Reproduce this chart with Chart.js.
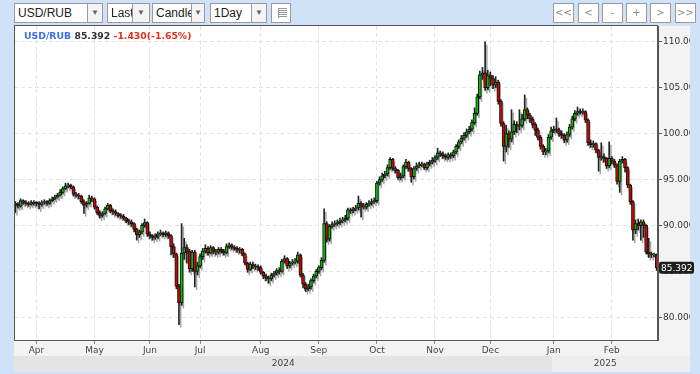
<!DOCTYPE html>
<html><head><meta charset="utf-8">
<script src="https://cdn.jsdelivr.net/npm/chart.js@4.4.1/dist/chart.umd.min.js"></script>
<style>
html,body{margin:0;padding:0;background:#cfe2f7;width:700px;height:374px;overflow:hidden;}
#wrap{position:relative;width:700px;height:374px;}
canvas{position:absolute;left:0;top:0;}
.sel{position:absolute;top:3px;height:20px;background:#fff;border:1px solid #9a9a9a;box-sizing:border-box;font:12px "Liberation Sans",Arial,sans-serif;color:#222;}
.sel .t{position:absolute;left:3px;top:2px;white-space:nowrap;overflow:hidden;}
.sel .a{position:absolute;right:0;top:0;bottom:0;border-left:1px solid #9a9a9a;background:#f4f4f4;color:#666;font-size:8px;text-align:center;line-height:18px;}
.btn{position:absolute;top:3px;width:21px;height:20px;background:#fff;border:1px solid #9a9a9a;box-sizing:border-box;font:10px "DejaVu Sans",sans-serif;color:#888;text-align:center;line-height:18px;}
#hdr{position:absolute;left:24px;top:30px;font:bold 9.3px "DejaVu Sans",sans-serif;white-space:nowrap;line-height:12px;}
</style></head>
<body><div id="wrap">
<canvas id="c" width="700" height="374"></canvas>
<div class="sel" style="left:14px;width:89px"><span class="t" style="width:70px">USD/RUB</span><span class="a" style="width:14px">&#9660;</span></div>
<div class="sel" style="left:107px;width:43px"><span class="t" style="width:23px">Last</span><span class="a" style="width:16px">&#9660;</span></div>
<div class="sel" style="left:152px;width:53px"><span class="t" style="width:38px">Candle</span><span class="a" style="width:12px">&#9660;</span></div>
<div class="sel" style="left:210px;width:57px"><span class="t" style="width:38px">1Day</span><span class="a" style="width:14px">&#9660;</span></div>
<div class="btn" style="left:271px;width:20px;"><div style="position:absolute;left:6px;top:4px;width:8px;height:10px;background:repeating-linear-gradient(#999 0 1px,transparent 1px 2px);border-left:1px solid #999"></div></div>
<div class="btn" style="left:553px">&lt;&lt;</div>
<div class="btn" style="left:578px">&lt;</div>
<div class="btn" style="left:602px">-</div>
<div class="btn" style="left:626px">+</div>
<div class="btn" style="left:650px">&gt;</div>
<div class="btn" style="left:675px">&gt;&gt;</div>
<div id="hdr"></div>
</div>
<script>
const symbol = 'USD/RUB';
const monthNames = ['Mar','Apr','May','Jun','Jul','Aug','Sep','Oct','Nov','Dec','Jan','Feb'];
const monthYears = ['2024','2024','2024','2024','2024','2024','2024','2024','2024','2024','2025','2025'];
const monthDays  = [8,22,21,19,23,22,22,22,21,24,22,18];
const yTicks = [80,85,90,95,100,105,110];

const opens = [
 92.4,92.3,92.1,92.7,92.5,92.4,92.3,92.5,
 92.4,92.4,92.3,92.5,92.6,92.4,92.7,92.9,93.1,93.3,93.6,94.0,94.3,94.4,94.2,93.4,93.3,93.2,92.6,92.2,92.4,93.0,
 92.9,92.0,91.4,91.1,91.3,91.8,92.2,91.6,91.5,91.3,91.1,91.0,90.8,90.5,90.4,90.2,89.6,89.0,89.3,90.0,90.3,
 89.1,88.9,88.7,88.8,89.1,89.2,89.0,89.2,88.9,87.7,86.9,83.4,81.6,87.0,87.6,87.2,85.3,87.1,85.0,
 85.6,86.6,87.2,87.5,87.0,87.6,87.2,87.1,87.4,87.2,87.0,87.7,87.9,87.6,87.5,87.3,87.4,86.9,85.9,85.2,85.8,85.6,85.5,
 85.4,84.9,84.5,84.3,84.2,84.6,84.8,85.1,85.0,86.1,86.4,85.6,85.9,86.0,86.1,86.8,84.6,83.6,83.1,83.3,84.0,84.5,
 85.0,85.4,86.2,90.2,88.5,89.9,90.1,90.2,90.3,90.5,90.6,90.8,91.7,91.6,91.8,91.9,92.4,92.1,92.0,92.3,92.4,92.6,
 92.7,94.6,95.0,95.4,95.6,96.3,97.2,96.2,96.0,95.2,95.4,96.4,96.9,96.2,95.3,96.2,96.5,96.6,96.7,96.3,96.7,96.9,
 97.1,97.4,97.9,97.8,97.6,97.4,97.7,97.6,98.0,98.6,99.1,99.5,99.8,100.2,100.5,101.2,102.2,104.0,106.4,106.6,105.0,
 106.3,106.0,105.3,105.6,103.5,101.1,98.6,100.0,99.4,100.2,101.0,100.8,100.9,101.6,102.6,102.0,101.6,101.0,100.4,99.6,98.6,98.0,98.1,99.6,
 100.3,100.5,100.4,100.0,99.8,99.3,99.9,100.7,101.6,102.2,102.4,102.3,102.4,101.5,99.0,98.8,98.9,98.2,97.4,97.5,97.3,96.5,
 97.3,97.0,96.6,94.8,97.0,97.2,96.3,94.4,92.6,89.5,90.2,90.0,90.4,90.0,87.1,86.9,86.8,86.822
];
const highs = [
 92.6,92.5,92.9,92.8,92.7,92.6,92.7,92.7,
 92.6,92.6,92.7,92.8,92.7,92.9,93.1,93.3,93.5,93.9,94.2,94.6,94.6,94.5,94.3,93.6,93.5,93.3,92.8,92.6,93.3,93.2,
 93.0,92.1,91.6,91.5,92.0,92.4,92.3,91.8,91.7,91.4,91.3,91.2,90.9,90.7,90.6,90.3,89.7,89.5,90.2,90.7,90.4,
 89.3,89.0,89.1,89.3,89.5,89.3,89.4,89.3,89.0,88.0,87.0,83.6,90.2,88.6,87.9,87.4,87.3,87.3,86.0,
 86.9,87.5,87.9,87.7,87.8,87.7,87.4,87.6,87.6,87.4,88.0,88.1,88.0,87.8,87.7,87.6,87.5,87.0,86.0,86.0,86.0,85.8,85.7,
 85.6,85.0,84.7,84.5,84.8,85.0,85.3,85.4,86.3,86.7,86.5,86.1,86.3,86.4,87.1,86.9,84.8,83.8,83.6,84.2,84.7,85.2,
 85.6,86.5,91.8,90.4,90.1,90.4,90.5,90.6,90.8,90.9,91.1,91.9,91.9,92.0,92.2,93.2,92.6,92.4,92.5,92.7,92.9,93.0,
 94.8,95.3,95.7,95.9,96.6,97.4,97.3,96.4,96.1,95.7,96.6,97.2,97.0,96.3,96.4,96.8,96.9,96.9,96.8,96.9,97.1,97.4,
 97.6,98.4,98.1,98.0,97.8,97.9,97.9,98.2,98.8,99.3,99.8,100.1,100.5,100.8,101.5,102.8,104.3,106.8,107.2,110.0,106.9,
 106.7,106.3,106.2,105.8,103.7,101.3,100.9,100.3,102.6,101.4,101.3,102.6,102.1,104.2,102.8,102.2,101.8,101.2,100.6,99.8,98.8,98.4,99.9,100.7,
 100.8,101.7,100.6,100.3,100.0,100.2,101.0,101.9,102.5,102.9,102.7,102.7,102.5,101.6,99.3,99.2,99.0,98.3,99.0,97.8,97.4,99.1,
 97.5,97.2,96.7,97.2,97.5,97.3,96.4,94.5,92.7,90.6,90.7,90.6,90.6,90.1,88.6,87.1,87.0,86.9
];
const lows = [
 91.4,91.9,92.0,92.3,92.2,92.1,92.2,92.2,
 92.1,91.8,92.1,92.3,92.2,92.3,92.6,92.8,93.0,93.2,93.5,93.9,94.1,94.0,93.2,93.1,92.9,92.4,91.3,92.0,92.3,92.6,
 91.8,91.2,90.8,90.9,91.2,91.7,91.4,91.2,91.1,90.9,90.8,90.6,90.3,90.1,89.9,89.3,88.4,88.7,89.1,89.8,88.8,
 88.6,88.4,88.5,88.6,88.9,88.8,88.8,88.6,86.8,86.5,83.1,79.2,81.3,86.3,85.9,84.9,85.0,83.3,84.6,
 85.4,86.3,87.0,86.8,86.9,86.9,86.8,86.9,87.0,86.8,86.9,87.5,87.4,87.3,87.1,87.0,86.7,85.7,84.9,85.1,85.3,85.2,85.1,
 84.7,84.2,84.0,83.7,84.0,84.4,84.6,84.7,84.9,85.9,85.3,85.4,85.7,85.8,85.9,84.4,83.2,82.8,82.9,83.1,83.8,84.3,
 84.8,85.2,86.0,88.2,88.3,89.7,89.9,90.0,90.1,90.3,90.4,90.6,91.3,91.4,91.6,91.7,90.9,91.8,91.8,92.1,92.2,92.4,
 92.5,94.4,94.8,95.2,95.4,96.1,96.0,95.7,95.0,95.0,95.2,96.2,95.9,94.7,95.1,96.0,96.3,96.4,96.1,96.1,96.5,96.7,
 96.9,97.2,97.5,97.3,97.2,97.2,97.3,97.4,97.8,98.4,98.9,99.3,99.6,100.0,100.3,101.0,102.0,103.8,105.9,104.7,104.8,
 105.2,104.9,105.0,103.2,100.8,97.0,98.0,98.5,99.1,99.9,100.1,100.4,100.7,101.4,101.6,101.2,100.6,99.8,99.3,98.3,97.7,97.7,97.9,99.4,
 100.1,100.1,99.7,99.5,99.0,99.1,99.7,100.5,101.4,102.0,102.1,102.1,101.2,98.7,98.5,98.5,97.9,95.9,97.1,96.9,96.2,96.3,
 96.7,96.3,94.5,93.6,96.8,95.8,94.1,92.3,88.4,89.1,89.5,88.4,88.7,86.9,86.5,86.5,86.6,85.1
];
const closes = [
 92.3,92.1,92.7,92.5,92.4,92.3,92.5,92.4,
 92.4,92.3,92.5,92.6,92.4,92.7,92.9,93.1,93.3,93.6,94.0,94.3,94.4,94.2,93.4,93.3,93.2,92.6,92.2,92.4,93.0,92.9,
 92.0,91.4,91.1,91.3,91.8,92.2,91.6,91.5,91.3,91.1,91.0,90.8,90.5,90.4,90.2,89.6,89.0,89.3,90.0,90.3,89.1,
 88.9,88.7,88.8,89.1,89.2,89.0,89.2,88.9,87.7,86.9,83.4,81.6,87.0,87.6,87.2,85.3,87.1,85.0,85.6,
 86.6,87.2,87.5,87.0,87.6,87.2,87.1,87.4,87.2,87.0,87.7,87.9,87.6,87.5,87.3,87.4,86.9,85.9,85.2,85.8,85.6,85.5,85.4,
 84.9,84.5,84.3,84.2,84.6,84.8,85.1,85.0,86.1,86.4,85.6,85.9,86.0,86.1,86.8,84.6,83.6,83.1,83.3,84.0,84.5,85.0,
 85.4,86.2,90.2,88.5,89.9,90.1,90.2,90.3,90.5,90.6,90.8,91.7,91.6,91.8,91.9,92.4,92.1,92.0,92.3,92.4,92.6,92.7,
 94.6,95.0,95.4,95.6,96.3,97.2,96.2,96.0,95.2,95.4,96.4,96.9,96.2,95.3,96.2,96.5,96.6,96.7,96.3,96.7,96.9,97.1,
 97.4,97.9,97.8,97.6,97.4,97.7,97.6,98.0,98.6,99.1,99.5,99.8,100.2,100.5,101.2,102.2,104.0,106.4,106.6,105.0,106.3,
 106.0,105.3,105.6,103.5,101.1,98.6,100.0,99.4,100.2,101.0,100.8,100.9,101.6,102.6,102.0,101.6,101.0,100.4,99.6,98.6,98.0,98.1,99.6,100.3,
 100.5,100.4,100.0,99.8,99.3,99.9,100.7,101.6,102.2,102.4,102.3,102.4,101.5,99.0,98.8,98.9,98.2,97.4,97.5,97.3,96.5,97.3,
 97.0,96.6,94.8,97.0,97.2,96.3,94.4,92.6,89.5,90.2,90.0,90.4,90.0,87.1,86.9,86.8,86.822,85.392
];

const GREEN = '#00c400', RED = '#e00000', SHADOW = '#a4a4a4';
const N = closes.length;
const idx = closes.map((_, i) => i);
const monthStart = [];
{ let acc = 0; monthDays.forEach(d => { monthStart.push(acc); acc += d; }); }

const last = closes[N - 1], prev = closes[N - 2];
const chg = last - prev, pct = chg / prev * 100;
document.getElementById('hdr').innerHTML =
  '<span style="color:#3d6ee8">' + symbol + '</span> <span style="color:#333">' + last.toFixed(3) +
  '</span> <span style="color:#e0301e">' + (chg >= 0 ? '+' : '') + chg.toFixed(3) + '(' + (pct >= 0 ? '+' : '') + pct.toFixed(2) + '%)</span>';

const panelPlugin = {
  id: 'panel',
  beforeDraw(chart) {
    const c = chart.ctx, ca = chart.chartArea, xs = chart.scales.x;
    c.save();
    c.fillStyle = '#cfe2f7'; c.fillRect(0, 0, 700, 374);
    c.fillStyle = '#f3f3f3'; c.fillRect(ca.left, ca.top, 690 - ca.left, 372 - ca.top);
    c.fillStyle = '#ffffff'; c.fillRect(ca.left, ca.top, ca.right - ca.left, ca.bottom - ca.top);
    const years = [...new Set(monthYears)];
    years.forEach((yr, k) => {
      const first = monthYears.indexOf(yr), lastM = monthYears.lastIndexOf(yr);
      const s = monthStart[first] - 0.5, e = monthStart[lastM] + monthDays[lastM] - 0.5;
      const x0 = Math.max(ca.left, xs.getPixelForValue(s));
      const x1 = k === years.length - 1 ? 690 : xs.getPixelForValue(e);
      c.fillStyle = k % 2 === 0 ? '#e4e4e4' : '#eeeeee';
      c.fillRect(x0, ca.bottom + 16, x1 - x0, 16);
    });
    c.restore();
  },
  beforeDatasetsDraw(chart) {
    const c = chart.ctx, ca = chart.chartArea;
    c.save();
    c.beginPath(); c.rect(ca.left, ca.top, ca.right - ca.left, ca.bottom - ca.top); c.clip();
    c.fillStyle = SHADOW;
    [1, 0].forEach(di => {
      chart.getDatasetMeta(di).data.forEach(el => {
        const p = el.getProps(['x', 'y', 'base', 'width'], true);
        const top = Math.min(p.y, p.base), h = Math.max(Math.abs(p.y - p.base), 1);
        const w = di === 1 ? 1.5 : p.width - 1;
        c.fillRect(p.x - p.width / 2 + 1.5, top + 3, w, h);
      });
    });
    c.restore();
  },
  afterDraw(chart) {
    const c = chart.ctx, ca = chart.chartArea, xs = chart.scales.x, ys = chart.scales.y;
    c.save();
    c.strokeStyle = '#555'; c.lineWidth = 1;
    c.strokeRect(ca.left + 0.5, ca.top - 0.5, ca.right - ca.left - 1, ca.bottom - ca.top + 1);
    c.fillStyle = '#444'; c.font = '9px "DejaVu Sans"'; c.textAlign = 'center'; c.textBaseline = 'middle';
    const years = [...new Set(monthYears)];
    years.forEach((yr, k) => {
      const first = monthYears.indexOf(yr), lastM = monthYears.lastIndexOf(yr);
      const s = monthStart[first] - 0.5, e = monthStart[lastM] + monthDays[lastM] - 0.5;
      const x0 = Math.max(ca.left, xs.getPixelForValue(s)), x1 = Math.min(ca.right, xs.getPixelForValue(e));
      c.fillText(yr, (x0 + x1) / 2, ca.bottom + 24);
    });
    c.fillStyle = '#cfe2f7'; c.fillRect(690, 0, 10, 374); c.fillRect(0, 372, 700, 2);
    const py = ys.getPixelForValue(last);
    c.fillStyle = '#1e1e1e';
    c.beginPath(); c.roundRect(ca.right + 1, py - 6, 35, 12, 2); c.fill();
    c.fillStyle = '#fff'; c.textAlign = 'left'; c.font = '9px "DejaVu Sans"';
    c.fillText(last.toFixed(3), ca.right + 3, py + 0.5);
    c.restore();
  }
};

new Chart(document.getElementById('c'), {
  type: 'bar',
  data: {
    datasets: [
      { label: 'body', order: 1, grouped: false,
        data: idx.map(i => ({ x: i, y: [opens[i], closes[i]] })),
        backgroundColor: idx.map(i => closes[i] > opens[i] ? GREEN : (closes[i] < opens[i] ? RED : '#000')),
        borderColor: '#111', borderWidth: 1, borderSkipped: false, barThickness: 3, minBarLength: 1 },
      { label: 'wick', order: 2, grouped: false,
        data: idx.map(i => ({ x: i, y: [lows[i], highs[i]] })),
        backgroundColor: '#222', borderWidth: 0, barThickness: 1 }
    ]
  },
  options: {
    responsive: false, animation: false, devicePixelRatio: 1,
    layout: { padding: { left: 14, top: 26, right: 10, bottom: 2 } },
    plugins: { legend: { display: false }, tooltip: { enabled: false } },
    scales: {
      x: {
        type: 'linear', min: -0.5, max: N - 0.5, offset: false, position: 'bottom',
        afterBuildTicks: s => { s.ticks = monthStart.slice(1).map(v => ({ value: v })); },
        afterFit: s => { s.height = 32; },
        ticks: { autoSkip: false, maxRotation: 0, padding: 1, color: '#444',
                 font: { family: 'DejaVu Sans', size: 9 },
                 callback: v => monthNames[monthStart.indexOf(v)] },
        grid: { offset: false, color: '#e3e3e3', tickLength: 4, tickColor: '#888', tickBorderDash: [] },
        border: { display: true, color: '#555', dash: [4, 3] }
      },
      y: {
        type: 'linear', position: 'right', min: 77.53, max: 111.71,
        afterBuildTicks: s => { s.ticks = yTicks.map(v => ({ value: v })); },
        afterFit: s => { s.width = 32; },
        ticks: { padding: 1, color: '#333', font: { family: 'DejaVu Sans', size: 9 },
                 callback: v => v.toFixed(3) },
        grid: { color: '#e3e3e3', tickLength: 4, tickColor: '#555', tickBorderDash: [] },
        border: { display: true, color: '#555', dash: [4, 3] }
      }
    }
  },
  plugins: [panelPlugin]
});
</script>
</body></html>
